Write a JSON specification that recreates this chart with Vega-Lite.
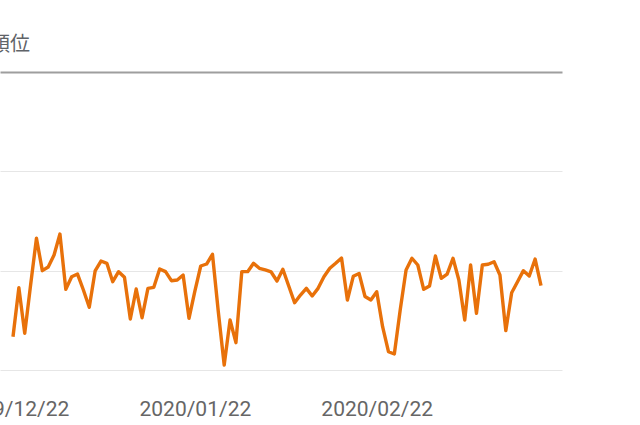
{
  "$schema": "https://vega.github.io/schema/vega-lite/v6.json",
  "autosize": {"type": "none"},
  "width": 562,
  "height": 298,
  "padding": {"left": 0, "top": 72, "right": 78, "bottom": 55},
  "background": "#ffffff",
  "title": {
    "text": "平均掲載順位",
    "anchor": "start",
    "frame": "group",
    "orient": "top",
    "dx": -90,
    "offset": 1,
    "baseline": "alphabetic",
    "font": "Noto Sans CJK JP",
    "fontSize": 20,
    "fontWeight": "normal",
    "color": "#5f6368"
  },
  "config": {"view": {"stroke": null}},
  "data": {
    "values": [
      {"date": "2019-12-22", "position": 26.65},
      {"date": "2019-12-23", "position": 21.72},
      {"date": "2019-12-24", "position": 26.31},
      {"date": "2019-12-25", "position": 21.44},
      {"date": "2019-12-26", "position": 16.74},
      {"date": "2019-12-27", "position": 20.0},
      {"date": "2019-12-28", "position": 19.63},
      {"date": "2019-12-29", "position": 18.42},
      {"date": "2019-12-30", "position": 16.31},
      {"date": "2019-12-31", "position": 21.88},
      {"date": "2020-01-01", "position": 20.61},
      {"date": "2020-01-02", "position": 20.34},
      {"date": "2020-01-03", "position": 21.95},
      {"date": "2020-01-04", "position": 23.69},
      {"date": "2020-01-05", "position": 20.03},
      {"date": "2020-01-06", "position": 19.03},
      {"date": "2020-01-07", "position": 19.26},
      {"date": "2020-01-08", "position": 21.11},
      {"date": "2020-01-09", "position": 20.1},
      {"date": "2020-01-10", "position": 20.67},
      {"date": "2020-01-11", "position": 24.87},
      {"date": "2020-01-12", "position": 21.85},
      {"date": "2020-01-13", "position": 24.74},
      {"date": "2020-01-14", "position": 21.78},
      {"date": "2020-01-15", "position": 21.68},
      {"date": "2020-01-16", "position": 19.83},
      {"date": "2020-01-17", "position": 20.1},
      {"date": "2020-01-18", "position": 21.01},
      {"date": "2020-01-19", "position": 20.94},
      {"date": "2020-01-20", "position": 20.44},
      {"date": "2020-01-21", "position": 24.8},
      {"date": "2020-01-22", "position": 22.05},
      {"date": "2020-01-23", "position": 19.53},
      {"date": "2020-01-24", "position": 19.33},
      {"date": "2020-01-25", "position": 18.35},
      {"date": "2020-01-26", "position": 24.16},
      {"date": "2020-01-27", "position": 29.5},
      {"date": "2020-01-28", "position": 24.97},
      {"date": "2020-01-29", "position": 27.25},
      {"date": "2020-01-30", "position": 20.1},
      {"date": "2020-01-31", "position": 20.1},
      {"date": "2020-02-01", "position": 19.26},
      {"date": "2020-02-02", "position": 19.76},
      {"date": "2020-02-03", "position": 19.93},
      {"date": "2020-02-04", "position": 20.13},
      {"date": "2020-02-05", "position": 21.04},
      {"date": "2020-02-06", "position": 19.86},
      {"date": "2020-02-07", "position": 21.54},
      {"date": "2020-02-08", "position": 23.23},
      {"date": "2020-02-09", "position": 22.45},
      {"date": "2020-02-10", "position": 21.78},
      {"date": "2020-02-11", "position": 22.55},
      {"date": "2020-02-12", "position": 21.78},
      {"date": "2020-02-13", "position": 20.61},
      {"date": "2020-02-14", "position": 19.76},
      {"date": "2020-02-15", "position": 19.26},
      {"date": "2020-02-16", "position": 18.73},
      {"date": "2020-02-17", "position": 22.95},
      {"date": "2020-02-18", "position": 20.57},
      {"date": "2020-02-19", "position": 20.29},
      {"date": "2020-02-20", "position": 22.6},
      {"date": "2020-02-21", "position": 22.95},
      {"date": "2020-02-22", "position": 22.12},
      {"date": "2020-02-23", "position": 25.64},
      {"date": "2020-02-24", "position": 28.16},
      {"date": "2020-02-25", "position": 28.39},
      {"date": "2020-02-26", "position": 23.96},
      {"date": "2020-02-27", "position": 19.93},
      {"date": "2020-02-28", "position": 18.75},
      {"date": "2020-02-29", "position": 19.43},
      {"date": "2020-03-01", "position": 21.88},
      {"date": "2020-03-02", "position": 21.54},
      {"date": "2020-03-03", "position": 18.52},
      {"date": "2020-03-04", "position": 20.77},
      {"date": "2020-03-05", "position": 20.34},
      {"date": "2020-03-06", "position": 18.75},
      {"date": "2020-03-07", "position": 20.94},
      {"date": "2020-03-08", "position": 24.97},
      {"date": "2020-03-09", "position": 19.43},
      {"date": "2020-03-10", "position": 24.29},
      {"date": "2020-03-11", "position": 19.43},
      {"date": "2020-03-12", "position": 19.36},
      {"date": "2020-03-13", "position": 19.1},
      {"date": "2020-03-14", "position": 20.44},
      {"date": "2020-03-15", "position": 26.04},
      {"date": "2020-03-16", "position": 22.22},
      {"date": "2020-03-17", "position": 21.11},
      {"date": "2020-03-18", "position": 20.0},
      {"date": "2020-03-19", "position": 20.54},
      {"date": "2020-03-20", "position": 18.83},
      {"date": "2020-03-21", "position": 21.51}
    ]
  },
  "mark": {"type": "line", "color": "#e8710a", "strokeWidth": 3.4, "strokeJoin": "round", "clip": false},
  "encoding": {
    "x": {
      "field": "date",
      "type": "temporal",
      "scale": {
        "type": "utc",
        "domain": [
          {"year": 2019, "month": 12, "date": 19, "hours": 18, "minutes": 49, "utc": true},
          {"year": 2020, "month": 3, "date": 24, "hours": 13, "minutes": 54, "utc": true}
        ]
      },
      "axis": {
        "title": null,
        "grid": false,
        "domain": false,
        "ticks": false,
        "values": [
          {"year": 2019, "month": 12, "date": 22, "utc": true},
          {"year": 2020, "month": 1, "date": 22, "utc": true},
          {"year": 2020, "month": 2, "date": 22, "utc": true}
        ],
        "labelExpr": "utcFormat(datum.value, '%Y/%m/%d')",
        "labelFont": "Roboto",
        "labelFontSize": 21,
        "labelColor": "#666666",
        "labelPadding": 28,
        "labelBound": false,
        "labelOverlap": false,
        "labelFlush": false
      }
    },
    "y": {
      "field": "position",
      "type": "quantitative",
      "scale": {"domain": [0, 30], "reverse": true, "nice": false, "zero": false},
      "axis": {
        "title": null,
        "labels": false,
        "ticks": false,
        "domain": false,
        "values": [0, 10, 20, 30],
        "grid": true,
        "gridColor": {"condition": {"test": "datum.value === 0", "value": "#9e9e9e"}, "value": "#e6e6e6"},
        "gridWidth": {"condition": {"test": "datum.value === 0", "value": 2}, "value": 1}
      }
    }
  }
}
